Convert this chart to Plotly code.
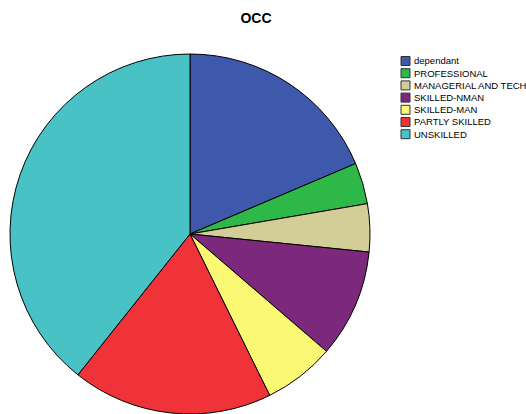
import plotly.graph_objects as go

categories = ["dependant", "PROFESSIONAL", "MANAGERIAL AND TECH", "SKILLED-NMAN",
              "SKILLED-MAN", "PARTLY SKILLED", "UNSKILLED"]
values = [18.6, 3.7, 4.3, 9.7, 6.4, 18.0, 39.3]
colors = ["#3E58AC", "#2EB848", "#D3CE97", "#7B287D", "#FBF873", "#EF3338", "#48C2C5"]

W, H = 526, 414
FONT = "Liberation Sans, Arial, sans-serif"

fig = go.Figure(go.Pie(
    labels=categories,
    values=values,
    sort=False,
    direction="clockwise",
    rotation=0,
    textinfo="none",
    hoverinfo="label+percent",
    marker=dict(colors=colors, line=dict(color="black", width=1)),
    domain=dict(x=[10/W, 370/W], y=[0, 360/H]),
    showlegend=False,
))

# Manual legend (compact, SPSS-style)
shapes = []
annotations = []
y0 = 61
step = 12.2
for i, (lab, col) in enumerate(zip(categories, colors)):
    yc = y0 + i * step
    shapes.append(dict(type="rect", xref="paper", yref="paper",
                       x0=401/W, x1=410/W, y0=1 - (yc - 4.5)/H, y1=1 - (yc + 4.5)/H,
                       fillcolor=col, line=dict(color="#333333", width=1)))
    annotations.append(dict(x=412/W, y=1 - yc/H, xref="paper", yref="paper",
                            text=lab, showarrow=False, xanchor="left", yanchor="middle",
                            font=dict(family=FONT, size=9.5, color="black")))

fig.update_layout(
    width=W, height=H,
    margin=dict(l=0, r=0, t=0, b=0),
    paper_bgcolor="white",
    plot_bgcolor="white",
    title=dict(text="<b>OCC</b>", x=256/W, xanchor="center", y=1 - 18/H, yanchor="middle",
               font=dict(family=FONT, size=14, color="black")),
    shapes=shapes,
    annotations=annotations,
    showlegend=False,
)

fig.write_html("out.html")
